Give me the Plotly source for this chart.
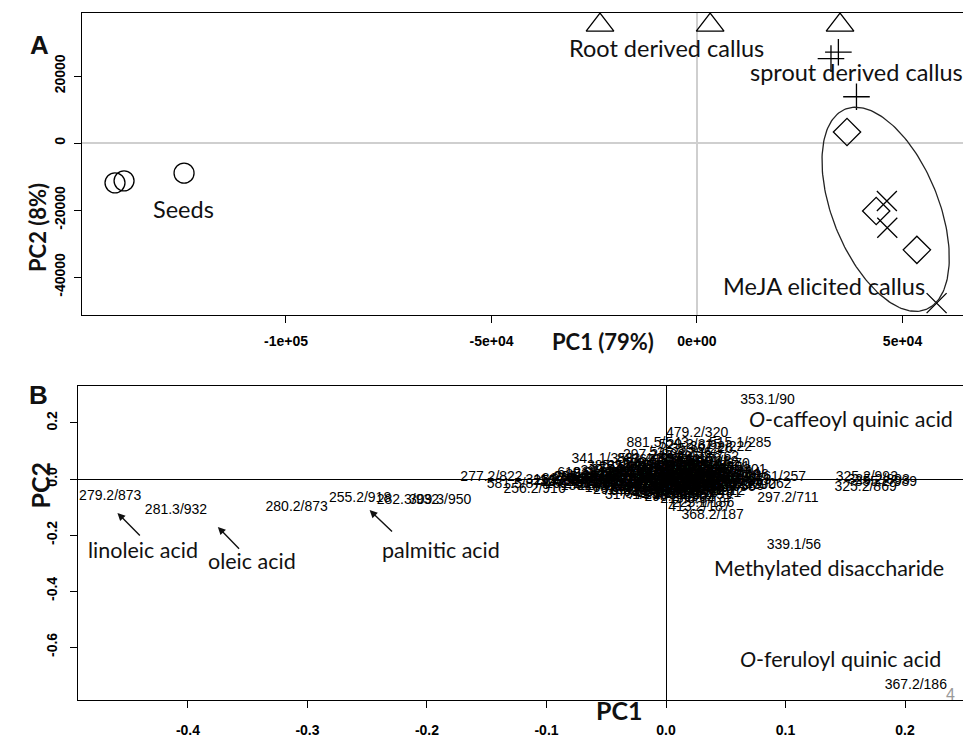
import numpy as np
import plotly.graph_objects as go

W, H = 963, 739

# ---------------- Panel A : PCA scores ----------------
seeds_pc1 = [-141600, -139400, -124800]
seeds_pc2 = [-11900, -11300, -9000]
root_pc1 = [-23600, 3200, 34800]
root_pc2 = [35200, 35200, 35200]
sprout_pc1 = [34400, 32600, 38800]
sprout_pc2 = [27100, 25200, 13800]
meja_root_pc1 = [36500, 43600, 53500]
meja_root_pc2 = [3300, -20300, -31900]
meja_sprout_pc1 = [46200, 46300, 58300]
meja_sprout_pc2 = [-17300, -25300, -47800]

a_xticks = [-100000, -50000, 0, 50000]
a_xticktext = ["-1e+05", "-5e+04", "0e+00", "5e+04"]
a_yticks = [20000, 0, -20000, -40000]
a_yticktext = ["20000", "0", "-20000", "-40000"]

# ---------------- Panel B : loadings ----------------
load_labels = [
    "279.2/873", "281.3/932", "280.2/873", "255.2/918", "282.3/932", "309.3/950",
    "277.2/822", "581.5/874", "256.2/916", "295.2/800", "341.1/358", "881.5/543",
    "479.2/320", "353.1/90", "161/257", "297.2/711", "325.2/993", "325.2/893",
    "355.2/989", "325.2/869", "225.1/186", "413.2/187", "368.2/187", "339.1/56",
    "367.2/186", "515.1/285", "367.2/222", "529.2/315", "353.2/226", "535.2/296",
    "882.4/346", "193.1/82", "337.1/150", "191.1/217", "173.1/262", "447.1/201",
    "191.1/210", "179.0/245", "135.0/312", "353.1/298", "515.1/402", "329.2/611",
    "163.0/188", "375.1/226", "461.2/275", "193.0/330", "707.2/295", "289.1/340",
    "577.1/318", "447.1/205", "299.1/252", "209.1/287", "341.1/264", "623.2/389",
    "477.2/415", "187.1/502", "311.2/548", "327.2/603", "293.2/690", "229.2/720",
    "265.1/480", "415.2/356", "431.2/377", "593.2/410", "609.2/366", "285.0/350",
    "305.1/266", "739.2/340", "197.0/121", "173.0/158", "133.0/91", "145.0/203",
    "221.1/232", "253.1/455", "267.2/512", "345.2/530", "269.2/584", "271.2/655",
    "313.2/640", "339.2/705", "255.1/301", "401.1/233", "367.1/356", "499.2/318",
    "181.1/95", "161.0/140", "215.0/64", "317.1/238", "351.1/270", "385.2/422",
    "505.2/390", "619.2/430", "285.2/762", "297.2/808", "255.2/840", "311.2/862",
    "325.2/780",
    "195.1/140", "211.1/166", "227.1/184", "243.1/199", "259.1/215", "275.1/232",
    "291.1/248", "307.1/262", "323.1/279", "339.1/296", "355.1/310", "371.1/327",
    "387.1/343", "403.1/359", "419.1/374", "435.1/390", "451.1/406", "467.1/421",
    "483.1/437", "499.1/452", "203.1/128", "219.1/151", "235.1/172", "251.1/193",
    "267.1/214", "283.1/236", "299.2/257", "315.2/279", "331.2/300", "347.2/321",
    "363.2/342", "379.2/364", "395.2/385", "411.2/406", "427.2/427", "443.2/449",
    "459.2/470", "475.2/491", "491.2/512", "507.2/533", "523.2/301", "539.2/322",
    "555.2/343", "571.2/364", "587.2/385", "603.2/406", "279.2/611", "291.2/632",
    "303.2/653", "317.2/674", "159.0/101", "175.0/117", "189.0/133", "205.0/149",
    "221.0/165", "237.0/181", "253.0/197", "269.0/213", "285.0/229", "301.0/245",
]
load_pc1 = [
    -0.465, -0.410, -0.309, -0.256, -0.216, -0.189,
    -0.146, -0.124, -0.110, -0.068, -0.053, -0.007,
    0.026, 0.085, 0.096, 0.102, 0.168, 0.178,
    0.184, 0.167, 0.031, 0.028, 0.039, 0.107,
    0.209, 0.062, 0.046, 0.020, 0.030, 0.012,
    -0.015, 0.038, 0.020, 0.053, 0.079, 0.022,
    -0.075, -0.070, -0.062, -0.058, -0.050, -0.046,
    -0.042, -0.038, -0.034, -0.030, -0.027, -0.024,
    -0.020, -0.017, -0.014, -0.011, -0.008, -0.005,
    -0.002, 0.001, 0.003, 0.006, 0.008, 0.010,
    0.012, 0.014, 0.016, 0.018, 0.020, 0.022,
    0.024, 0.026, 0.028, 0.030, 0.032, 0.034,
    0.036, 0.038, 0.040, 0.043, 0.046, 0.049,
    0.052, 0.055, 0.058, 0.062, -0.003, 0.005,
    -0.015, 0.000, 0.018, -0.025, 0.044, -0.040,
    0.066, -0.065, 0.035, -0.010, -0.085, -0.092,
    -0.080,
    -0.055, -0.052, -0.048, -0.044, -0.041, -0.037,
    -0.035, -0.031, -0.029, -0.026, -0.023, -0.021,
    -0.019, -0.016, -0.013, -0.012, -0.009, -0.007,
    -0.004, -0.001, 0.002, 0.004, 0.007, 0.009,
    0.011, 0.013, 0.015, 0.017, 0.019, 0.021,
    0.023, 0.025, 0.027, 0.029, 0.031, 0.033,
    0.035, 0.037, 0.039, 0.041, 0.044, 0.047,
    0.050, 0.053, 0.056, 0.060, -0.060, -0.067,
    -0.072, -0.078, 0.005, 0.015, -0.005, 0.025,
    0.000, 0.010, -0.010, 0.020, 0.030, -0.020,
]
load_pc2 = [
    -0.061, -0.111, -0.100, -0.068, -0.075, -0.075,
    0.004, -0.021, -0.039, 0.007, 0.068, 0.128,
    0.164, 0.282, 0.007, -0.071, 0.004, -0.004,
    -0.012, -0.032, -0.086, -0.100, -0.132, -0.236,
    -0.739, 0.128, 0.114, 0.120, 0.105, 0.092,
    0.070, 0.060, 0.070, -0.018, -0.018, -0.040,
    -0.020, 0.000, -0.028, 0.012, -0.015, 0.025,
    -0.035, 0.005, -0.022, 0.040, -0.045, 0.015,
    -0.008, 0.030, -0.030, 0.050, -0.055, 0.008,
    -0.018, 0.035, -0.040, 0.020, -0.065, 0.000,
    0.055, -0.025, 0.042, -0.050, 0.012, -0.010,
    0.028, -0.035, 0.060, 0.005, -0.060, 0.018,
    -0.020, 0.038, -0.045, 0.002, 0.025, -0.030,
    0.010, -0.012, 0.030, -0.004, 0.065, -0.005,
    0.000, -0.030, -0.072, -0.060, 0.050, 0.045,
    -0.022, 0.020, 0.075, 0.085, -0.010, -0.004,
    -0.014,
    -0.005, 0.018, -0.028, 0.008, -0.012, 0.030,
    -0.040, 0.000, 0.020, -0.020, 0.045, -0.032,
    0.010, -0.048, 0.022, -0.010, 0.038, -0.028,
    0.000, 0.052, -0.050, 0.015, -0.015, 0.030,
    -0.038, 0.008, -0.058, 0.025, -0.022, 0.048,
    -0.045, 0.000, 0.015, -0.015, 0.035, -0.030,
    0.002, -0.050, 0.020, -0.010, 0.040, -0.020,
    0.000, 0.020, -0.025, 0.012, -0.018, 0.005,
    -0.012, 0.000, 0.045, 0.065, 0.025, 0.045,
    -0.008, -0.025, -0.040, -0.005, -0.045, 0.000,
]

b_xticks = [-0.4, -0.3, -0.2, -0.1, 0.0, 0.1, 0.2]
b_xticktext = ["-0.4", "-0.3", "-0.2", "-0.1", "0.0", "0.1", "0.2"]
b_yticks = [0.2, 0.0, -0.2, -0.4, -0.6]
b_yticktext = ["0.2", "0.0", "-0.2", "-0.4", "-0.6"]

# compound annotations: (text, pc1, pc2)
compound_text = ["<i>O</i>-caffeoyl quinic acid", "Methylated disaccharide",
                 "<i>O</i>-feruloyl quinic acid"]
compound_pc1 = [0.155, 0.136, 0.146]
compound_pc2 = [0.214, -0.318, -0.643]

acid_text = ["linoleic acid", "oleic acid", "palmitic acid"]
acid_label_pc1 = [-0.438, -0.346, -0.188]
acid_label_pc2 = [-0.254, -0.293, -0.254]
arrow_head_pc1 = [-0.459, -0.375, -0.248]
arrow_head_pc2 = [-0.121, -0.171, -0.111]
arrow_tail_pc1 = [-0.439, -0.356, -0.228]
arrow_tail_pc2 = [-0.207, -0.254, -0.193]

fig = go.Figure()

mk_line = dict(color="black", width=1.3)
fig.add_trace(go.Scatter(x=seeds_pc1, y=seeds_pc2, mode="markers",
                         marker=dict(symbol="circle-open", size=20, line=mk_line, color="black"),
                         xaxis="x", yaxis="y", name="Seeds"))
fig.add_trace(go.Scatter(x=root_pc1, y=root_pc2, mode="markers",
                         marker=dict(symbol="triangle-up-open", size=24, line=mk_line, color="black"),
                         xaxis="x", yaxis="y", name="Root derived callus"))
fig.add_trace(go.Scatter(x=sprout_pc1, y=sprout_pc2, mode="markers",
                         marker=dict(symbol="cross-thin-open", size=19, line=mk_line, color="black"),
                         xaxis="x", yaxis="y", name="sprout derived callus"))
fig.add_trace(go.Scatter(x=meja_root_pc1, y=meja_root_pc2, mode="markers",
                         marker=dict(symbol="diamond-open", size=21, line=mk_line, color="black"),
                         xaxis="x", yaxis="y", name="MeJA root"))
fig.add_trace(go.Scatter(x=meja_sprout_pc1, y=meja_sprout_pc2, mode="markers",
                         marker=dict(symbol="x-thin-open", size=20, line=mk_line, color="black"),
                         xaxis="x", yaxis="y", name="MeJA sprout"))

# ellipse around MeJA elicited callus (shape, built in pixel units then scaled)
ux, uy = 243.3, 298.5          # data units per pixel in panel A
ecx, ecy = 45900, -19800        # ellipse centre (data units)
ea, eb, tilt = 108, 53, np.radians(22)
t = np.linspace(0, 2 * np.pi, 200)
u, v = ea * np.cos(t), eb * np.sin(t)
dx = u * np.sin(tilt) + v * np.cos(tilt)
dy = u * np.cos(tilt) - v * np.sin(tilt)
fig.add_trace(go.Scatter(x=ecx + dx * ux, y=ecy - dy * uy, mode="lines",
                         line=dict(color="#222", width=1.3), xaxis="x", yaxis="y",
                         name="ellipse"))

# Panel B loadings text
fig.add_trace(go.Scatter(x=load_pc1, y=load_pc2, mode="text", text=load_labels,
                         textposition="middle center",
                         textfont=dict(family="Liberation Sans, Arial", size=14, color="#000"),
                         xaxis="x2", yaxis="y2", name="loadings", cliponaxis=False))

annotations = []
big_font = dict(family="Lato", size=23.5, color="#111")
annotations += [
    dict(x=-125000, y=-19700, xref="x", yref="y", text="Seeds", showarrow=False, font=big_font),
    dict(x=-7300, y=28400, xref="x", yref="y", text="Root derived callus", showarrow=False, font=big_font),
    dict(x=12400, y=21200, xref="x", yref="y", text="sprout derived callus", showarrow=False,
         font=big_font, xanchor="left"),
    dict(x=30800, y=-42700, xref="x", yref="y", text="MeJA elicited callus", showarrow=False, font=big_font),
]
bfont = dict(family="Lato", size=21.5, color="#111")
for txt, xx, yy in zip(compound_text, compound_pc1, compound_pc2):
    annotations.append(dict(x=xx, y=yy, xref="x2", yref="y2", text=txt, showarrow=False, font=bfont))
for txt, xx, yy in zip(acid_text, acid_label_pc1, acid_label_pc2):
    annotations.append(dict(x=xx, y=yy, xref="x2", yref="y2", text=txt, showarrow=False, font=bfont))
for hx, hy, tx, ty in zip(arrow_head_pc1, arrow_head_pc2, arrow_tail_pc1, arrow_tail_pc2):
    annotations.append(dict(x=hx, y=hy, ax=tx, ay=ty, xref="x2", yref="y2", axref="x2", ayref="y2",
                            text="", showarrow=True, arrowhead=2, arrowsize=1.1, arrowwidth=1.4,
                            arrowcolor="#111"))

def px(xp):
    return xp / W

def py(yp):
    return 1 - yp / H

annotations += [
    dict(x=px(28), y=py(28), xref="paper", yref="paper", text="<b>A</b>", showarrow=False,
         font=dict(family="Liberation Sans, Arial", size=26, color="#111")),
    dict(x=px(27), y=py(395), xref="paper", yref="paper", text="<b>B</b>", showarrow=False,
         font=dict(family="Liberation Sans, Arial", size=26, color="#111")),
    dict(x=px(603), y=py(342), xref="paper", yref="paper", text="<b>PC1 (79%)</b>", showarrow=False,
         font=dict(family="Lato", size=22, color="#111")),
    dict(x=px(22), y=py(181), xref="paper", yref="paper", text="<b>PC2 (8%)</b>", showarrow=False,
         textangle=-90, font=dict(family="Lato", size=22, color="#111")),
    dict(x=px(619), y=py(727), xref="paper", yref="paper", text="<b>PC1</b>", showarrow=False,
         font=dict(family="Lato", size=25, color="#111")),
    dict(x=px(23), y=py(511), xref="paper", yref="paper", text="<b>PC2</b>", showarrow=False,
         textangle=-90, font=dict(family="Lato", size=25, color="#111")),
    dict(x=px(957), y=py(705), xref="paper", yref="paper", text="4", showarrow=False,
         font=dict(family="Liberation Sans, Arial", size=16, color="#999")),
]

tickfont = dict(family="Liberation Sans, Arial", size=14, color="#000", weight="bold")
axis_common = dict(showline=True, linecolor="black", linewidth=1.3, ticks="outside", ticklen=7,
                   tickwidth=1.2, tickcolor="black", tickfont=tickfont, showgrid=False)

fig.update_layout(
    width=W, height=H, margin=dict(l=0, r=0, t=0, b=0),
    paper_bgcolor="white", plot_bgcolor="white", showlegend=False,
    xaxis=dict(domain=[82 / W, 1], range=[-149630, 64720], anchor="y", mirror=True,
               tickvals=a_xticks, ticktext=a_xticktext, zeroline=True, zerolinecolor="#cfcfcf",
               zerolinewidth=1.5, ticklabelstandoff=6, **axis_common),
    yaxis=dict(domain=[1 - 315 / H, 1 - 13 / H], range=[-51342, 38806], anchor="x", mirror=False,
               tickvals=a_yticks, ticktext=a_yticktext, tickangle=-90, zeroline=True,
               zerolinecolor="#cfcfcf", zerolinewidth=1.5, ticklabelstandoff=3, **axis_common),
    xaxis2=dict(domain=[78 / W, 1], range=[-0.492, 0.2485], anchor="y2", mirror=True,
                tickvals=b_xticks, ticktext=b_xticktext, zeroline=True, zerolinecolor="black",
                zerolinewidth=1.2, ticklabelstandoff=10, **axis_common),
    yaxis2=dict(domain=[1 - 700 / H, 1 - 386 / H], range=[-0.789, 0.332], anchor="x2", mirror=False,
                tickvals=b_yticks, ticktext=b_yticktext, tickangle=-90, zeroline=True,
                zerolinecolor="black", zerolinewidth=1.2, ticklabelstandoff=7, **axis_common),
    annotations=annotations,
)

fig.write_html("out.html")
